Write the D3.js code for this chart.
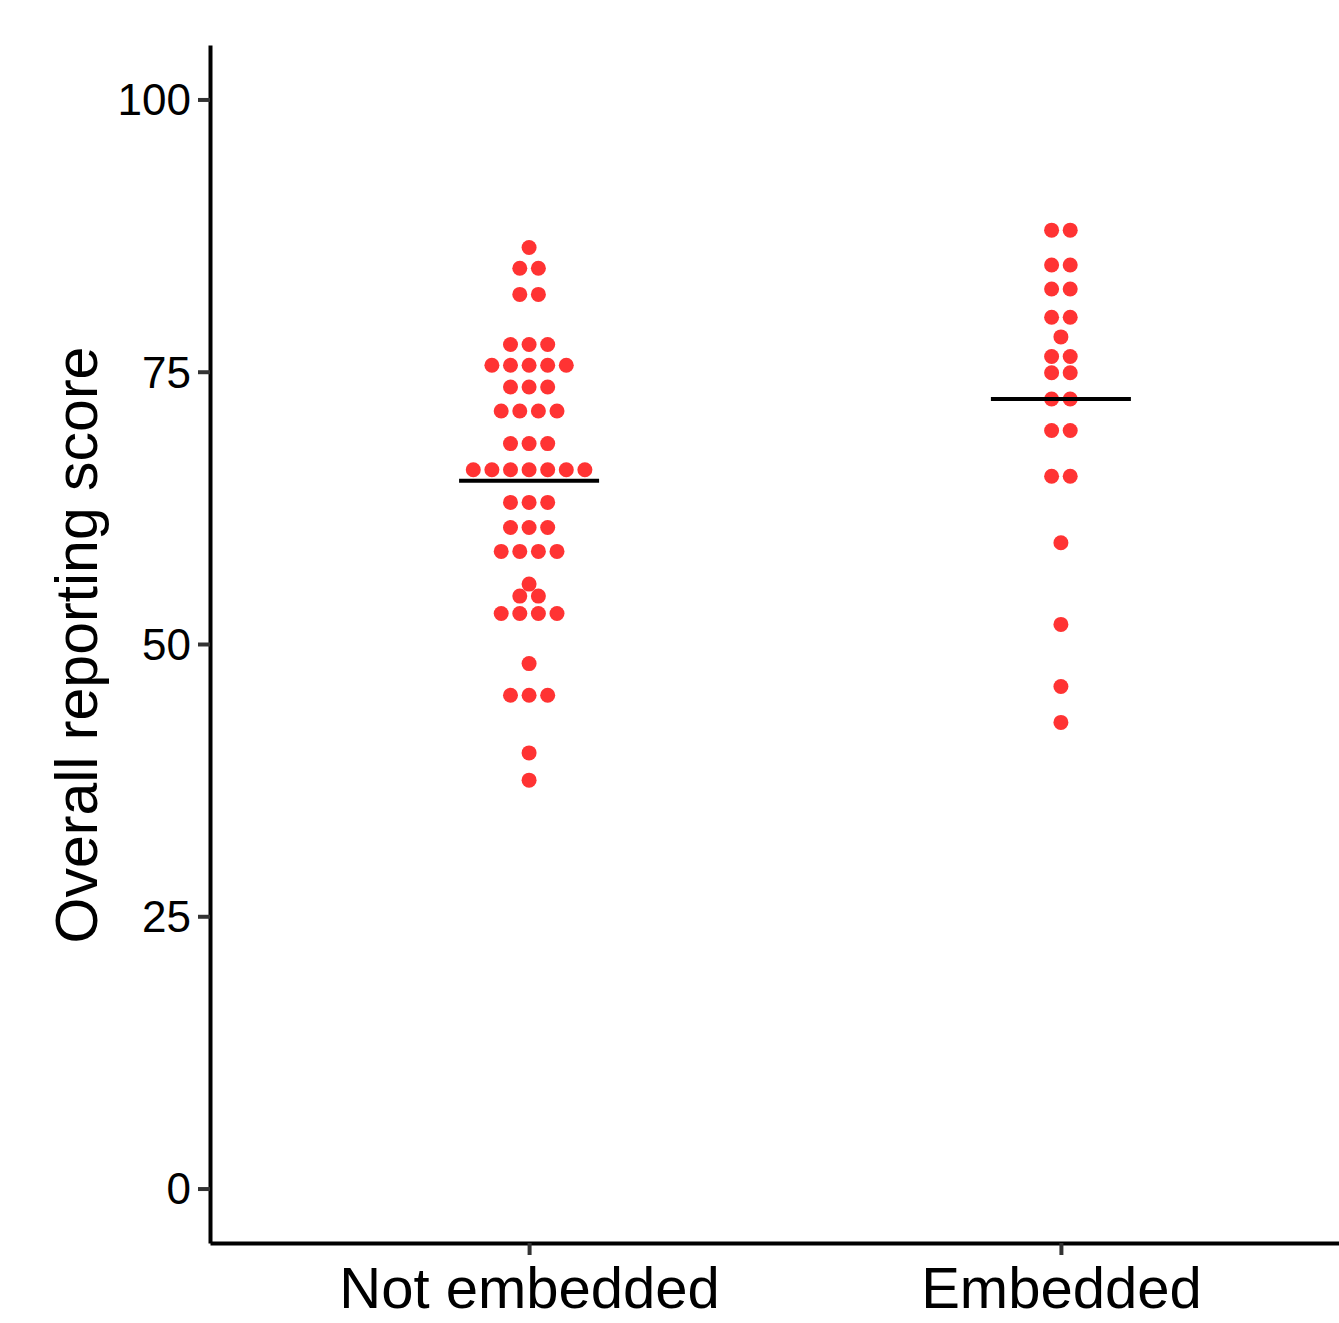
<!DOCTYPE html>
<html>
<head>
<meta charset="utf-8">
<script src="https://cdn.jsdelivr.net/npm/d3@7"></script>
<style>
  body { margin: 0; background: #fff; }
  text { font-family: "Liberation Sans", Arial, sans-serif; }
</style>
</head>
<body>
<div id="chart"></div>
<script>
// data
var groups = ["Not embedded", "Embedded"];
var notEmbedded = [
    86.4,
    84.5, 84.5,
    82.1, 82.1,
    77.5, 77.5, 77.5,
    75.6, 75.6, 75.6, 75.6, 75.6,
    73.6, 73.6, 73.6,
    71.4, 71.4, 71.4, 71.4,
    68.4, 68.4, 68.4,
    66.0, 66.0, 66.0, 66.0, 66.0, 66.0, 66.0,
    63.0, 63.0, 63.0,
    60.7, 60.7, 60.7,
    58.5, 58.5, 58.5, 58.5,
    55.5,
    54.4, 54.4,
    52.8, 52.8, 52.8, 52.8,
    48.2,
    45.3, 45.3, 45.3,
    40.0,
    37.5
];
var embedded = [
    88.0, 88.0,
    84.8, 84.8,
    82.6, 82.6,
    80.0, 80.0,
    78.2,
    76.4, 76.4,
    74.9, 74.9,
    72.5, 72.5,
    69.6, 69.6,
    65.4, 65.4,
    59.3,
    51.8,
    46.1,
    42.8
];
var medians = [65.0, 72.5];
var yTicks = [0, 25, 50, 75, 100];

function DotPlot(){
    var w = 1339;
    var h = 1323;
    var dotR = 7.5;
    var dotStep = 18.6;

    var svg = d3.select("#chart")
                .append("svg")
                .attr("width", w)
                .attr("height", h);

    var x = d3.scalePoint()
                .domain(groups)
                .range([210, 1380])
                .padding(0.6);

    var y = d3.scaleLinear()
                .domain([-5, 105])
                .range([1243, 45]);

    // build dot positions: same value -> one row, centred on the group
    var dots = [];
    [notEmbedded, embedded].forEach(function(vals, gi){
        var rows = d3.rollup(vals, function(v){ return v.length; }, function(d){ return d; });
        rows.forEach(function(n, v){
            for (var i = 0; i < n; i++) {
                dots.push({g: groups[gi], v: v, off: (i - (n - 1) / 2) * dotStep});
            }
        });
    });

    svg.append("g")
        .selectAll("circle")
        .data(dots)
        .enter()
        .append("circle")
        .attr("cx", function(d){ return x(d.g) + d.off; })
        .attr("cy", function(d){ return y(d.v); })
        .attr("r", dotR)
        .attr("fill", "#ff3333");

    // median bars
    svg.append("g")
        .selectAll("line")
        .data(medians)
        .enter()
        .append("line")
        .attr("x1", function(d, i){ return x(groups[i]) - 70; })
        .attr("x2", function(d, i){ return x(groups[i]) + 70; })
        .attr("y1", function(d){ return y(d); })
        .attr("y2", function(d){ return y(d); })
        .attr("stroke", "#000")
        .attr("stroke-width", 4);

    var yAxis = d3.axisLeft(y)
                .tickValues(yTicks)
                .tickSize(12)
                .tickSizeOuter(0)
                .tickPadding(7);

    var gy = svg.append("g")
        .attr("transform", "translate(210,0)")
        .call(yAxis);

    var xAxis = d3.axisBottom(x)
                .tickSize(12)
                .tickSizeOuter(0)
                .tickPadding(12);

    var gx = svg.append("g")
        .attr("transform", "translate(0,1243)")
        .call(xAxis);

    [gy, gx].forEach(function(g){
        g.select(".domain").attr("stroke", "#000").attr("stroke-width", 4);
        g.selectAll(".tick line").attr("stroke", "#333").attr("stroke-width", 4);
        g.selectAll(".tick text").attr("fill", "#000");
    });
    gy.selectAll(".tick text").style("font-size", "44px").attr("dy", "0.35em");
    gx.selectAll(".tick text").style("font-size", "58px");

    svg.append("text")
        .attr("transform", "translate(97,645) rotate(-90)")
        .attr("text-anchor", "middle")
        .style("font-size", "59px")
        .attr("fill", "#000")
        .text("Overall reporting score");
}

window.onload = DotPlot();
</script>
</body>
</html>
